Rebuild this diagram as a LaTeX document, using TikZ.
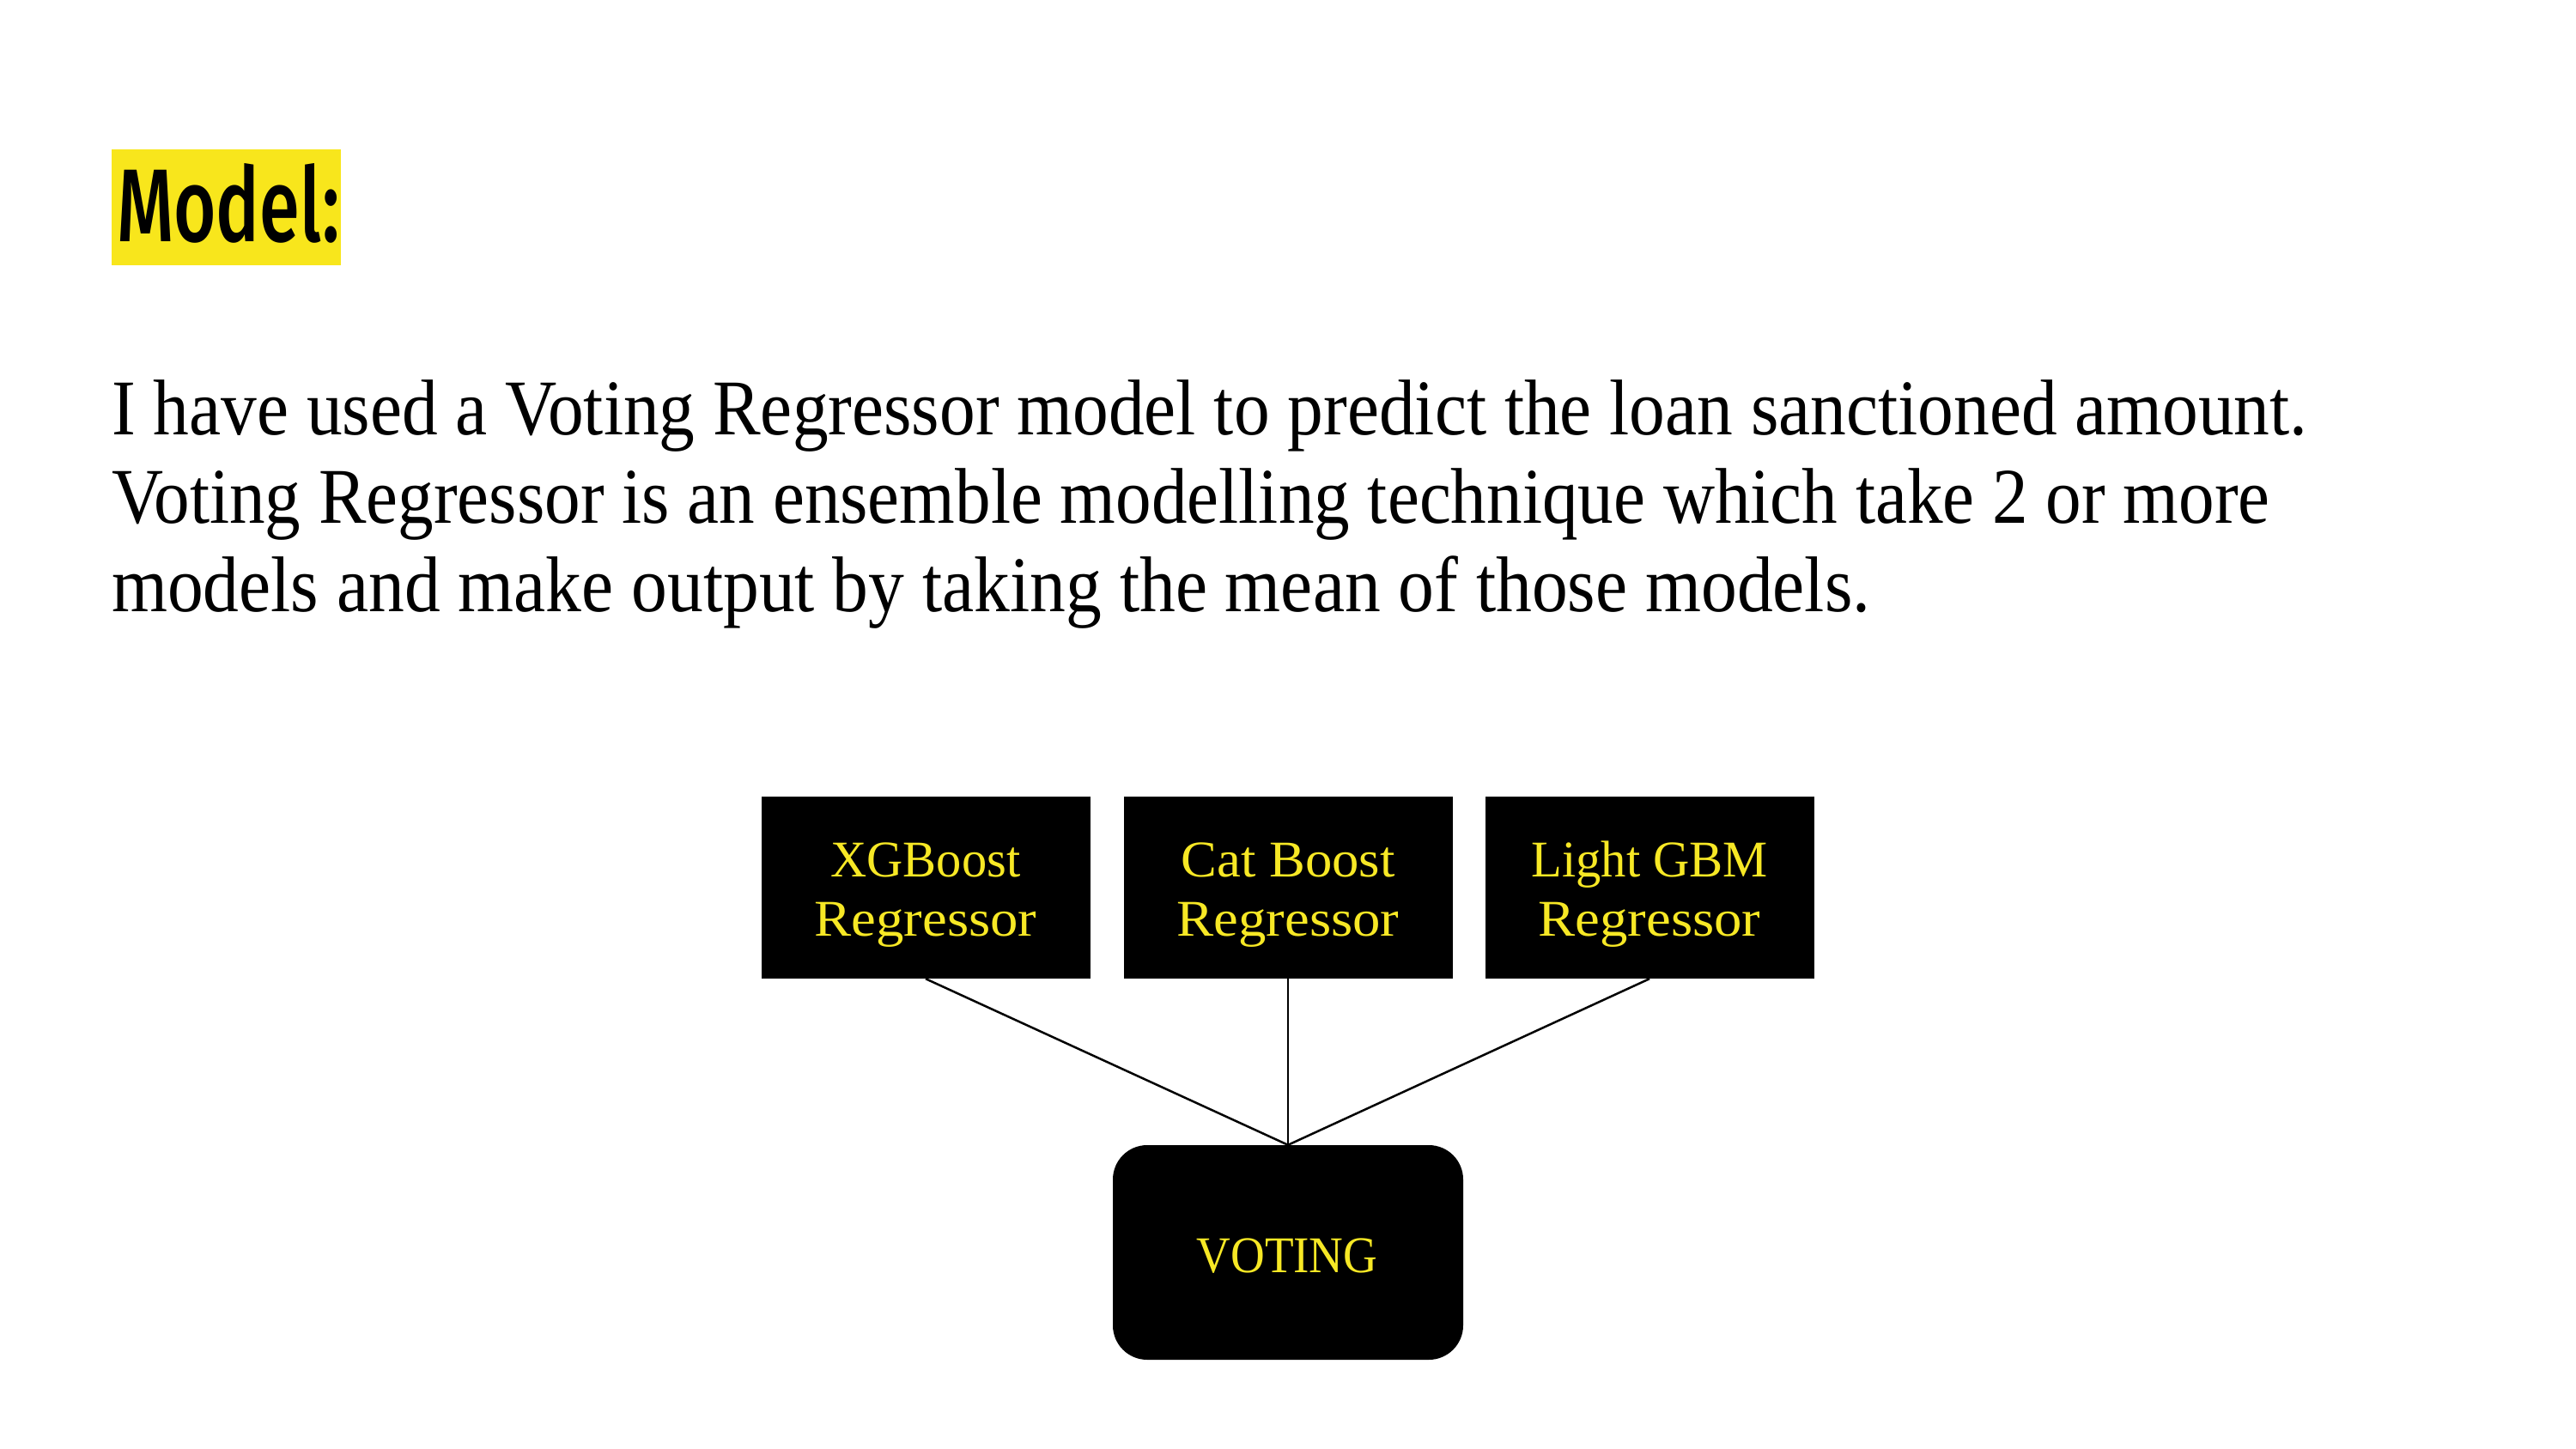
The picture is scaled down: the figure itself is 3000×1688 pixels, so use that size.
\documentclass[tikz,border=0pt]{standalone}
\usepackage{fontspec}
\usepackage{graphicx}
\setmainfont{Liberation Serif}
\newfontfamily\titlefont{Fira Sans}[UprightFont=* Medium]
\definecolor{hilite}{HTML}{F8E61C}
\definecolor{boxtext}{HTML}{F7E825}
\newcommand{\fitw}[2]{\resizebox{#1pt}{\height}{#2}}
\begin{document}
\begin{tikzpicture}[x=1pt,y=-1pt,
  bodytxt/.style={anchor=base west,inner sep=0pt,font=\fontsize{92}{100}\selectfont},
  modelbox/.style={fill=black,draw=none,minimum width=383pt,minimum height=212pt,inner sep=0pt},
  boxtxt/.style={anchor=base,inner sep=0pt,text=boxtext,font=\fontsize{60}{69}\selectfont},
  votebox/.style={fill=black,draw=none,rounded corners=40pt,minimum width=408pt,minimum height=250pt,inner sep=0pt},
  link/.style={draw=black,line width=2.5pt}]
\useasboundingbox (0,0) rectangle (3000,1688);
\fill[white] (0,0) rectangle (3000,1688);
% title
\fill[hilite] (130,174) rectangle (397,309);
\node[anchor=base west,inner sep=0pt] (title) at (136,282) {\resizebox{259pt}{91pt}{\titlefont Model:}};
% body
\node[bodytxt] (l1) at (130,506) {\fitw{2557}{I have used a Voting Regressor model to predict the loan sanctioned amount.}};
\node[bodytxt] (l2) at (130,609) {\fitw{2513}{Voting Regressor is an ensemble modelling technique which take 2 or more}};
\node[bodytxt] (l3) at (130,712) {\fitw{2048}{models and make output by taking the mean of those models.}};
% boxes
\node[modelbox] (b1) at (1078,1034) {};
\node[modelbox] (b2) at (1500,1034) {};
\node[modelbox] (b3) at (1921,1034) {};
\node[votebox] (vote) at (1500,1459) {};
\node[boxtxt] (b1a) at (1078,1021) {\fitw{221}{XGBoost}};
\node[boxtxt] (b1b) at (1078,1090) {\fitw{259}{Regressor}};
\node[boxtxt] (b2a) at (1500,1021) {\fitw{249}{Cat Boost}};
\node[boxtxt] (b2b) at (1500,1090) {\fitw{259}{Regressor}};
\node[boxtxt] (b3a) at (1921,1021) {\fitw{275}{Light GBM}};
\node[boxtxt] (b3b) at (1921,1090) {\fitw{259}{Regressor}};
\node[boxtxt] (vt) at (1499,1482) {\fitw{211}{VOTING}};
% connectors
\draw[link] (b1.south) -- (vote.north);
\draw[link] (b2.south) -- (vote.north);
\draw[link] (b3.south) -- (vote.north);
\end{tikzpicture}
\end{document}
